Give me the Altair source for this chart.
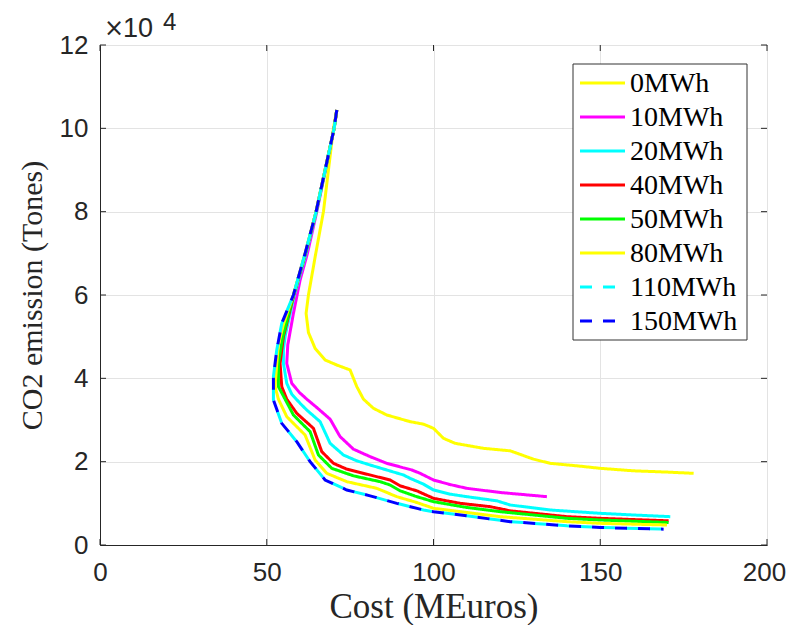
import altair as alt
import pandas as pd

series_names = ["0MWh", "10MWh", "20MWh", "40MWh", "50MWh", "80MWh", "110MWh", "150MWh"]
series_colors = ["#ffff00", "#ff00ff", "#00ffff", "#ff0000", "#00ff00", "#ffff00", "#00ffff", "#0000ff"]
series_dash = [[1, 0], [1, 0], [1, 0], [1, 0], [1, 0], [1, 0], [12, 11], [12, 11]]

# cost (MEuros) and CO2 emission (tonnes) per storage size
cost_0 = [71, 70, 68.5, 67, 64.7, 62.5, 61.8, 62.5, 64.5, 67.5, 71, 75, 77, 79, 82, 86, 93, 97, 100, 103, 106.5, 115, 123, 130, 135, 143, 150, 160, 170, 178]
co2_0 = [104400, 100000, 90000, 80000, 70000, 60000, 55600, 51000, 47200, 44400, 43200, 42000, 38000, 35000, 32800, 31200, 29600, 29000, 28000, 25600, 24400, 23200, 22600, 20600, 19600, 19000, 18400, 17800, 17500, 17200]

cost_10 = [71, 70.2, 67.6, 65, 62.2, 60, 58, 56.3, 56, 57.5, 59.8, 62, 65, 69, 72, 76, 81, 86, 93.5, 96, 100, 105, 110, 120, 134]
co2_10 = [104400, 100000, 90000, 80000, 70000, 63600, 55600, 48000, 43600, 38800, 36600, 35000, 33000, 30200, 26000, 23000, 21200, 19600, 18000, 17200, 15600, 14500, 13600, 12600, 11600]

cost_20 = [71, 70.2, 67.6, 64.9, 61.8, 58.3, 55.6, 55, 55, 56, 57.5, 60, 62, 66, 69, 73, 77, 81, 86, 91, 93, 97, 100, 105, 110, 119, 123, 135, 150, 160, 171]
co2_20 = [104400, 100000, 90000, 80000, 70000, 60000, 50500, 47000, 43600, 38800, 36200, 34000, 32400, 29600, 24400, 21600, 20200, 19200, 18000, 16800, 16000, 14600, 13200, 12200, 11600, 10600, 9600, 8400, 7600, 7200, 6800]

cost_40 = [71, 70.2, 67.5, 64.8, 61.6, 58.1, 55, 54, 54.5, 56, 59, 64, 66.5, 70, 74, 78, 84, 87, 90, 95, 100, 108, 117, 123, 140, 150, 170.5]
co2_40 = [104400, 100000, 90000, 80000, 70000, 60000, 50000, 43600, 38000, 35000, 31600, 28000, 22400, 19600, 18200, 17400, 16200, 15600, 14200, 13000, 11200, 10000, 9200, 8200, 6800, 6400, 5800]

cost_50 = [71, 70.2, 67.5, 64.8, 61.6, 58, 54.8, 53.5, 53.5, 55.5, 58, 63, 65.5, 69.5, 76, 84, 87, 90, 95, 100, 110, 120, 140, 150, 170.5]
co2_50 = [104400, 100000, 90000, 80000, 70000, 60000, 50000, 43600, 38000, 35000, 31200, 27200, 21600, 18400, 16600, 15200, 14400, 13000, 11600, 10400, 9000, 8000, 6400, 6000, 5400]

cost_80 = [71, 70.2, 67.5, 64.8, 61.5, 58, 55, 53.5, 53, 52.5, 53.5, 56, 61.5, 64.5, 68, 74, 83, 89, 95, 100, 110, 120, 140, 150, 170]
co2_80 = [104400, 100000, 90000, 80000, 70000, 60000, 53000, 48000, 43600, 38000, 35000, 30800, 26400, 20400, 17200, 15200, 13600, 11600, 10200, 8800, 7800, 6800, 5600, 5200, 4800]

cost_110 = [71, 70.2, 67.5, 64.8, 61.5, 58, 54.5, 53, 52, 52, 54.5, 59, 63, 67.5, 74, 81, 89, 97, 100, 110, 123, 140, 150, 170]
co2_110 = [104400, 100000, 90000, 80000, 70000, 60000, 53200, 46800, 40400, 34800, 29200, 24800, 20000, 15600, 13200, 11800, 10000, 8400, 8000, 7000, 5600, 4600, 4200, 3800]

cost_150 = [71, 70.2, 67.5, 64.8, 61.5, 58, 54.5, 53, 52, 52, 54.5, 59, 63, 67.5, 74, 81, 89, 97, 100, 110, 123, 140, 150, 169]
co2_150 = [104400, 100000, 90000, 80000, 70000, 60000, 53200, 46800, 40400, 34800, 29200, 24800, 20000, 15600, 13200, 11800, 10000, 8400, 8000, 7000, 5600, 4600, 4200, 3800]

x_ticks = [0, 50, 100, 150, 200]
y_ticks = [0, 20000, 40000, 60000, 80000, 100000, 120000]

all_cost = [cost_0, cost_10, cost_20, cost_40, cost_50, cost_80, cost_110, cost_150]
all_co2 = [co2_0, co2_10, co2_20, co2_40, co2_50, co2_80, co2_110, co2_150]

W, H = 667, 500
AXC = "#262626"

color_scale = alt.Scale(domain=series_names, range=series_colors)
dash_scale = alt.Scale(domain=series_names, range=series_dash)
xs = alt.Scale(domain=[0, 200], nice=False)
ys = alt.Scale(domain=[0, 120000], nice=False)

layers = []
for name, cs, ks in zip(series_names, all_cost, all_co2):
    df = pd.DataFrame({"cost": cs, "co2": ks, "series": name, "i": list(range(len(cs)))})
    props = dict(strokeWidth=3, clip=True, strokeCap="butt")
    if name == "110MWh":
        props["strokeDashOffset"] = 12
    layers.append(
        alt.Chart(df).mark_line(**props).encode(
            x=alt.X("cost:Q", scale=xs,
                    axis=alt.Axis(values=x_ticks, title="Cost (MEuros)", grid=True,
                                  labelOffset={"condition": {"test": "datum.value == 200", "value": -3}, "value": 0})),
            y=alt.Y("co2:Q", scale=ys,
                    axis=alt.Axis(values=y_ticks, title="CO2 emission (Tones)", grid=True,
                                  labelExpr="datum.value / 10000")),
            color=alt.Color("series:N", scale=color_scale, legend=None),
            strokeDash=alt.StrokeDash("series:N", scale=dash_scale, legend=None),
            order=alt.Order("i:Q"),
        )
    )

xt = pd.DataFrame({"v": x_ticks})
yt = pd.DataFrame({"v": y_ticks})
tick_bottom = alt.Chart(xt).mark_rule(color=AXC, strokeWidth=1).encode(
    x=alt.X("v:Q", scale=xs), y=alt.value(H), y2=alt.value(H - 6))
tick_top = alt.Chart(xt).mark_rule(color=AXC, strokeWidth=1).encode(
    x=alt.X("v:Q", scale=xs), y=alt.value(0), y2=alt.value(6))
tick_left = alt.Chart(yt).mark_rule(color=AXC, strokeWidth=1).encode(
    y=alt.Y("v:Q", scale=ys), x=alt.value(0), x2=alt.value(6))
tick_right = alt.Chart(yt).mark_rule(color=AXC, strokeWidth=1).encode(
    y=alt.Y("v:Q", scale=ys), x=alt.value(W), x2=alt.value(W - 6))

exp_df = pd.DataFrame({"x": ["×"], "t": ["10"], "s": ["4"]})
exp_times = alt.Chart(exp_df).mark_text(
    align="left", baseline="alphabetic", font="DejaVu Sans", fontSize=24, color=AXC
).encode(text="x:N", x=alt.value(4), y=alt.value(-9))
exp_main = alt.Chart(exp_df).mark_text(
    align="left", baseline="alphabetic", font="Liberation Sans", fontSize=27, color=AXC
).encode(text="t:N", x=alt.value(23), y=alt.value(-8))
exp_sup = alt.Chart(exp_df).mark_text(
    align="left", baseline="alphabetic", font="Liberation Sans", fontSize=24, color=AXC
).encode(text="s:N", x=alt.value(63), y=alt.value(-15))

main = alt.layer(*layers, tick_bottom, tick_top, tick_left, tick_right, exp_times, exp_main, exp_sup)

# legend (built from the series list)
leg_df = pd.DataFrame({"series": series_names})
leg_y = alt.Y("series:N", scale=alt.Scale(type="point", domain=series_names, range=[38, 276], padding=0), axis=None)
leg_box = alt.Chart(pd.DataFrame({"a": [0]})).mark_rect(
    fill="white", stroke="#333333", strokeWidth=1
).encode(x=alt.value(473), x2=alt.value(647), y=alt.value(19), y2=alt.value(295))
leg_line = alt.Chart(leg_df).mark_rule(strokeWidth=3, strokeCap="butt").encode(
    x=alt.value(480), x2=alt.value(525), y=leg_y,
    color=alt.Color("series:N", scale=color_scale, legend=None),
    strokeDash=alt.StrokeDash("series:N", scale=dash_scale, legend=None),
)
leg_text = alt.Chart(leg_df).mark_text(
    align="left", baseline="middle", font="Liberation Serif", fontSize=28, color="black", dy=1
).encode(x=alt.value(530), y=leg_y, text="series:N")
legend = alt.layer(leg_box, leg_line, leg_text)

chart = alt.layer(main, legend).resolve_scale(y="independent").properties(
    width=W, height=H,
    autosize=alt.AutoSizeParams(type="none"),
    padding={"left": 92, "top": 37, "right": 19, "bottom": 80},
).configure_view(
    stroke=AXC, strokeWidth=1
).configure_axis(
    domainColor=AXC, domainWidth=1, ticks=False, labelFlush=False,
    gridColor="#e3e3e3", gridWidth=1,
    labelFont="Liberation Sans", labelFontSize=26, labelColor=AXC,
    titleFont="Liberation Serif", titleFontWeight="normal", titleColor=AXC,
).configure_axisX(
    labelPadding=14, titlePadding=4, titleFontSize=35
).configure_axisY(
    labelPadding=12, titlePadding=12, titleFontSize=30
)

chart.save("out.html", embed_options={"renderer": "svg", "actions": False})
